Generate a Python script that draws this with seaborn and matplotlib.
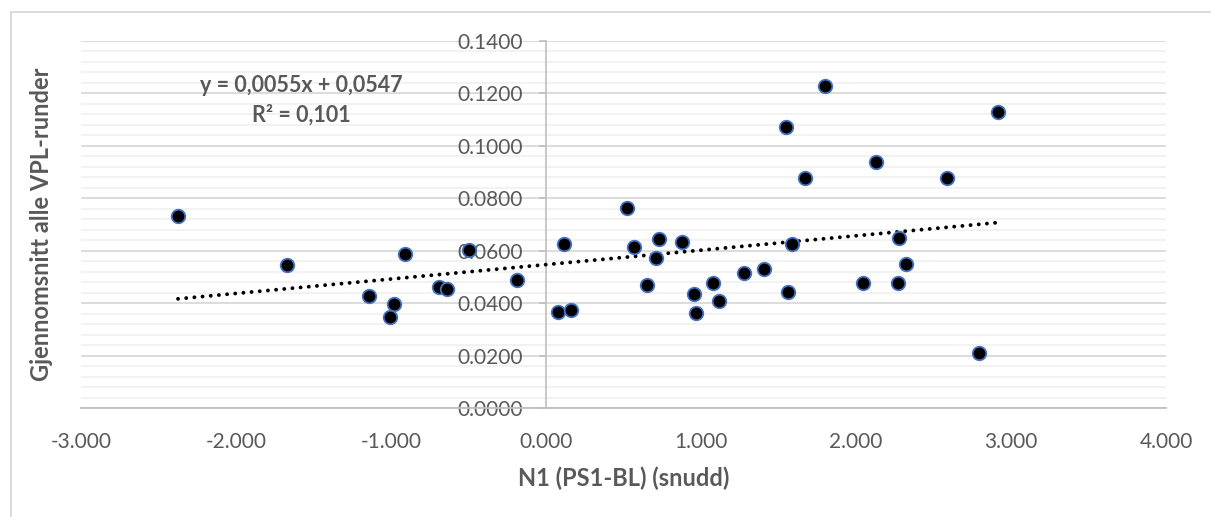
import numpy as np
import pandas as pd
import matplotlib
matplotlib.use("Agg")
import matplotlib.pyplot as plt
from matplotlib.lines import Line2D
from matplotlib.ticker import MultipleLocator, FuncFormatter
import seaborn as sns

# ---- data ----
n1 = [-2.374, -1.671, -0.908, -1.140, -0.983, -1.005, -0.690, -0.639, -0.499,
      -0.187, 0.075, 0.163, 0.118, 0.522, 0.565, 0.649, 0.712, 0.731, 0.875,
      0.952, 0.965, 1.077, 1.118, 1.275, 1.406, 1.559, 1.587, 2.047, 2.273,
      2.277, 2.323, 2.795, 1.802, 1.548, 2.918, 2.129, 1.673, 2.589]
vpl = [0.0733, 0.0545, 0.0589, 0.0428, 0.0397, 0.0347, 0.0461, 0.0453, 0.0601,
       0.0490, 0.0366, 0.0373, 0.0626, 0.0763, 0.0613, 0.0468, 0.0571, 0.0644, 0.0632,
       0.0435, 0.0364, 0.0477, 0.0407, 0.0514, 0.0529, 0.0442, 0.0625, 0.0477, 0.0477,
       0.0647, 0.0548, 0.0211, 0.1228, 0.1073, 0.1129, 0.0938, 0.0879, 0.0879]
trend_slope = 0.0055
trend_intercept = 0.0547
eq_label = "y = 0,0055x + 0,0547"
r2_label = "R² = 0,101"
x_label = "N1 (PS1-BL) (snudd)"
y_label = "Gjennomsnitt alle VPL-runder"
x_ticks = [-3, -2, -1, 0, 1, 2, 3, 4]
y_ticks = [0.0, 0.02, 0.04, 0.06, 0.08, 0.10, 0.12, 0.14]

df = pd.DataFrame({"n1": n1, "vpl": vpl})

sns.set_theme(style="white")
plt.rcParams["font.family"] = ["Lato", "DejaVu Sans"]
plt.rcParams["axes.unicode_minus"] = False

W, H = 1211, 517
fig = plt.figure(figsize=(W / 100, H / 100), dpi=100)
L, R, T, B = 81, 1166, 41, 408
ax = fig.add_axes([L / W, 1 - B / H, (R - L) / W, (B - T) / H])

text_col = "#595959"
axis_col = "#bfbfbf"

ax.set_xlim(x_ticks[0], x_ticks[-1])
ax.set_ylim(y_ticks[0], y_ticks[-1])
ax.set_xticks(x_ticks)
ax.set_yticks(y_ticks)
ax.yaxis.set_minor_locator(MultipleLocator(0.004))
ax.xaxis.set_major_formatter(FuncFormatter(lambda v, p: f"{v:.3f}"))
ax.yaxis.set_major_formatter(FuncFormatter(lambda v, p: f"{v:.4f}"))

ax.set_axisbelow(True)
ax.grid(which="major", axis="y", color="#d9d9d9", linewidth=1.3)
ax.grid(which="minor", axis="y", color="#efefef", linewidth=1.1)
ax.grid(which="major", axis="x", visible=False)

for s in ("top", "right"):
    ax.spines[s].set_visible(False)
ax.spines["left"].set_position(("data", 0))
ax.spines["left"].set_color(axis_col)
ax.spines["bottom"].set_color(axis_col)
ax.spines["left"].set_linewidth(1.2)
ax.spines["bottom"].set_linewidth(1.3)

ax.tick_params(axis="x", which="major", direction="out", length=5, width=1.2,
               color=axis_col, labelcolor=text_col, labelsize=15, pad=12)
ax.tick_params(axis="y", which="major", direction="out", length=5, width=1.2,
               color=axis_col, labelcolor=text_col, labelsize=15, pad=12, left=True)
ax.tick_params(axis="y", which="minor", length=0)

# trendline
xs = np.array([min(n1), max(n1)])
ax.plot(xs, trend_slope * xs + trend_intercept, color="black",
        linestyle=(0, (0.01, 2.1)), linewidth=2.8, dash_capstyle="round", zorder=3)

sns.scatterplot(data=df, x="n1", y="vpl", ax=ax, color="black",
                edgecolor="#4472C4", linewidth=1.3, s=95, zorder=4, clip_on=False)

ax.set_xlabel(x_label, fontsize=17, fontweight="bold", color=text_col)
ax.set_ylabel(y_label, fontsize=17, fontweight="bold", color=text_col)
ax.xaxis.set_label_coords(0.5, -0.16)
ax.yaxis.set_label_coords(-0.026, 0.5)

fig.text(301 / W, 1 - 85 / H, eq_label, ha="center", va="center",
         fontsize=15.5, fontweight="bold", color=text_col)
fig.text(301 / W, 1 - 115 / H, r2_label, ha="center", va="center",
         fontsize=15.5, fontweight="bold", color=text_col)

# outer chart border
fig.add_artist(Line2D([11 / W, 11 / W], [0, 1 - 12 / H], transform=fig.transFigure,
                      color="#d9d9d9", linewidth=1.3))
fig.add_artist(Line2D([11 / W, 1], [1 - 12 / H, 1 - 12 / H], transform=fig.transFigure,
                      color="#d9d9d9", linewidth=1.3))

fig.savefig("out.png", dpi=100, facecolor="white")
